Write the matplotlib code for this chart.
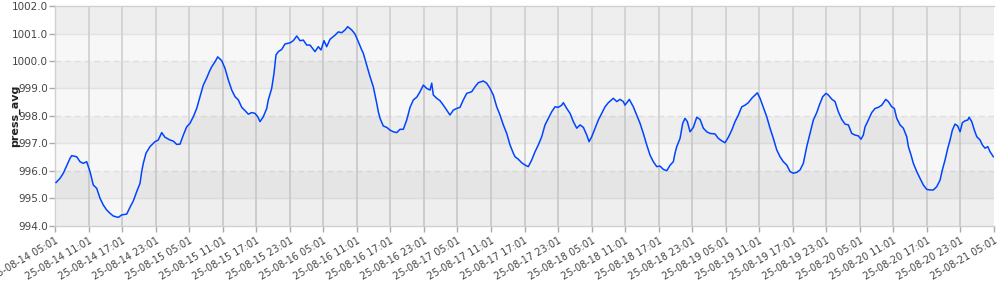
import matplotlib
matplotlib.use("Agg")
import matplotlib.pyplot as plt
import matplotlib.dates as mdates
import numpy as np
from datetime import datetime, timedelta

start_time = datetime(2025, 8, 14, 5, 1)

hours = [
    0.18, 0.89, 1.49, 2.09, 2.68, 2.99, 3.88, 4.47, 5.06, 5.67, 6.26, 6.85, 7.46, 8.05, 8.64, 9.25,
    9.84, 10.43, 11.33, 11.93, 12.83, 13.42, 14.01, 14.62, 15.21, 15.51, 15.80, 16.28, 17.00, 17.89,
    18.48, 19.09, 19.68, 20.58, 21.17, 21.77, 22.37, 22.96, 23.56, 24.15, 24.75, 25.35, 25.94, 26.53,
    27.14, 27.61, 28.04, 28.63, 29.11, 29.83, 30.42, 31.01, 31.62, 32.21, 32.80, 33.41, 34.00, 34.59,
    35.19, 35.78, 36.27, 36.68, 37.27, 37.88, 38.16, 38.77, 39.18, 39.54, 39.95, 40.56, 41.15, 42.05,
    42.64, 43.25, 43.84, 44.43, 45.04, 45.63, 46.52, 47.11, 47.59, 48.13, 48.61, 49.20, 50.10, 50.69,
    51.30, 51.89, 52.37, 53.09, 53.68, 54.27, 54.88, 55.16, 55.77, 56.36, 56.95, 57.56, 57.85, 58.15,
    58.74, 59.35, 59.94, 60.53, 61.14, 61.73, 62.32, 62.93, 63.52, 64.11, 64.72, 65.31, 65.90, 66.51,
    67.10, 67.40, 67.69, 68.29, 68.89, 69.48, 70.08, 70.67, 71.26, 71.87, 72.46, 73.05, 73.66, 74.56,
    75.15, 75.74, 76.63, 77.24, 77.83, 78.42, 79.03, 79.62, 80.21, 80.82, 81.41, 82.00, 82.30, 82.89,
    83.50, 84.09, 84.68, 85.29, 85.88, 86.47, 87.08, 87.67, 88.26, 88.87, 89.46, 90.05, 90.66, 90.95,
    91.56, 92.15, 92.74, 93.35, 93.94, 94.53, 95.14, 95.55, 96.03, 96.62, 97.21, 97.82, 98.41, 99.00,
    99.89, 100.50, 101.09, 101.68, 101.98, 102.75, 103.47, 104.08, 104.67, 105.26, 105.87, 106.46,
    107.05, 107.66, 108.25, 108.84, 109.45, 110.04, 110.63, 110.93, 111.24, 111.83, 112.31, 112.72,
    113.13, 113.62, 114.21, 114.82, 115.41, 116.00, 116.61, 117.20, 118.09, 118.68, 119.29, 119.88,
    120.47, 121.08, 121.67, 122.26, 122.87, 123.46, 124.05, 124.66, 125.25, 125.66, 126.14, 126.73,
    127.34, 127.93, 128.52, 129.13, 129.72, 130.31, 130.92, 131.51, 132.10, 132.71, 133.30, 133.89,
    134.50, 135.09, 135.68, 136.29, 136.75, 137.36, 137.95, 138.36, 138.97, 139.56, 140.15, 140.76,
    141.35, 141.94, 142.55, 143.14, 143.73, 144.21, 144.62, 144.93, 145.52, 146.13, 146.72, 147.31,
    147.92, 148.63, 149.10, 149.70, 150.17, 150.60, 151.19, 151.78, 152.39, 152.68, 153.16, 153.57,
    154.18, 154.77, 155.36, 155.97, 156.56, 157.15, 157.76, 158.35, 158.76, 159.24, 159.73, 160.14,
    160.55, 161.03, 161.52, 161.93, 162.34, 162.82, 163.31, 163.54, 164.02, 164.49, 164.92, 165.51,
    165.92, 166.40, 166.89, 167.30, 167.89,
]

press_avg = [
    995.57, 995.72, 995.91, 996.18, 996.45, 996.55, 996.51, 996.33, 996.27, 996.33, 995.97, 995.48, 995.36, 995.00, 994.75, 994.57,
    994.45, 994.35, 994.30, 994.39, 994.42, 994.67, 994.90, 995.24, 995.54, 995.97, 996.27, 996.64, 996.88, 997.06,
    997.12, 997.39, 997.22, 997.12, 997.08, 996.96, 996.97, 997.30, 997.60, 997.73, 997.97, 998.27, 998.70, 999.12,
    999.38, 999.61, 999.79, 999.97, 1000.15, 1000.01, 999.73, 999.31, 998.94, 998.70, 998.58, 998.31, 998.19, 998.06,
    998.12, 998.09, 997.97, 997.79, 997.97, 998.27, 998.58, 999.00, 999.55, 1000.22, 1000.34, 1000.42, 1000.62, 1000.66,
    1000.74, 1000.91, 1000.74, 1000.76, 1000.58, 1000.58, 1000.34, 1000.52, 1000.40, 1000.74, 1000.52, 1000.79, 1000.94, 1001.06,
    1001.03, 1001.13, 1001.25, 1001.13, 1000.98, 1000.70, 1000.40, 1000.28, 999.85, 999.43, 999.06, 998.46, 998.15, 997.91,
    997.63, 997.58, 997.48, 997.42, 997.39, 997.51, 997.51, 997.85, 998.31, 998.58, 998.68, 998.88, 999.12, 999.00,
    998.94, 999.19, 998.76, 998.64, 998.55, 998.39, 998.21, 998.03, 998.21, 998.27, 998.31, 998.58, 998.82, 998.88,
    999.06, 999.21, 999.27, 999.19, 999.00, 998.76, 998.33, 998.03, 997.67, 997.36, 996.94, 996.64, 996.51, 996.42,
    996.29, 996.21, 996.15, 996.39, 996.69, 996.94, 997.24, 997.67, 997.91, 998.15, 998.33, 998.31, 998.39, 998.48,
    998.27, 998.09, 997.79, 997.55, 997.67, 997.58, 997.30, 997.06, 997.24, 997.55, 997.85, 998.09, 998.33, 998.48,
    998.64, 998.52, 998.60, 998.52, 998.39, 998.60, 998.33, 998.03, 997.73, 997.36, 996.94, 996.57,
    996.33, 996.15, 996.17, 996.05, 996.00, 996.20, 996.33, 996.64, 996.88, 997.18, 997.73, 997.91,
    997.79, 997.42, 997.58, 997.95, 997.87, 997.55, 997.42, 997.36, 997.34, 997.18, 997.09, 997.02,
    997.22, 997.48, 997.79, 998.03, 998.33, 998.39, 998.48, 998.64, 998.76, 998.84, 998.64, 998.31,
    997.97, 997.55, 997.18, 996.76, 996.51, 996.33, 996.21, 995.97, 995.91, 995.94, 996.03, 996.27,
    996.88, 997.36, 997.85, 998.12, 998.39, 998.70, 998.82, 998.76, 998.61, 998.52, 998.15, 997.87,
    997.70, 997.67, 997.36, 997.30, 997.27, 997.15, 997.30, 997.60, 997.85, 998.12, 998.27, 998.31,
    998.39, 998.60, 998.52, 998.33, 998.27, 997.91, 997.67, 997.55, 997.24, 996.88, 996.57, 996.27,
    995.97, 995.72, 995.48, 995.32, 995.30, 995.30, 995.42, 995.66, 996.03, 996.39, 996.82, 997.12,
    997.48, 997.70, 997.63, 997.42, 997.75, 997.82, 997.85, 997.95, 997.79, 997.48, 997.24, 997.12,
    996.94, 996.82, 996.88, 996.69, 996.51,
]

y_min, y_max = 994.0, 1002.0
y_ticks = [994.0, 995.0, 996.0, 997.0, 998.0, 999.0, 1000.0, 1001.0, 1002.0]
tick_step_hours = 6
n_ticks = 29

times = [start_time + timedelta(hours=h) for h in hours]
tick_times = [start_time + timedelta(hours=tick_step_hours * i) for i in range(n_ticks)]

fig = plt.figure(figsize=(10, 2.9), dpi=100)
ax = fig.add_axes([0.055, 0.222, 0.939, 0.757])

ax.set_xlim(tick_times[0], tick_times[-1])
ax.set_ylim(y_min, y_max)
ax.set_facecolor("white")

# alternating horizontal bands
for i in range(len(y_ticks) - 1):
    col = "#eeeeee" if i % 2 == 1 else "#f7f7f7"
    ax.axhspan(y_ticks[i], y_ticks[i + 1], color=col, zorder=0, lw=0)
# horizontal grid lines
for yv in y_ticks[1:-1]:
    if int(yv) % 2 == 0:
        ax.axhline(yv, color="#dedede", lw=1.0, ls=(0, (4, 3)), zorder=1)
    else:
        ax.axhline(yv, color="#e2e2e2", lw=1.0, zorder=1)
# vertical grid lines
for tt in tick_times[1:-1]:
    ax.axvline(tt, color="#cfcfcf", lw=1.2, zorder=1)

ax.fill_between(times, press_avg, y_min, color="black", alpha=0.035, lw=0, zorder=2)
ax.plot(times, press_avg, color="#0044ff", lw=1.1, zorder=3)

ax.set_yticks(y_ticks)
ax.set_yticklabels([f"{v:.1f}" for v in y_ticks], fontsize=7.5, color="#444444")
ax.set_xticks(tick_times)
ax.xaxis.set_major_formatter(mdates.DateFormatter("%y-%m-%d %H:%M"))
plt.setp(ax.get_xticklabels(), rotation=30, ha="right", rotation_mode="anchor",
         fontsize=7, color="#444444")
ax.tick_params(axis="both", colors="#aaaaaa", length=4, width=1, labelcolor="#444444")
ax.tick_params(axis="y", pad=1)
ax.tick_params(axis="x", pad=3)

for s in ["left", "bottom", "top", "right"]:
    ax.spines[s].set_color("#d0d0d0")
    ax.spines[s].set_linewidth(1.0)
ax.spines["right"].set_visible(False)

fig.text(0.015, 0.222 + 0.757 / 2, "press_avg", rotation=90, fontsize=8,
         fontweight="bold", color="#222222", ha="center", va="center")

fig.savefig("out.png", dpi=100)
